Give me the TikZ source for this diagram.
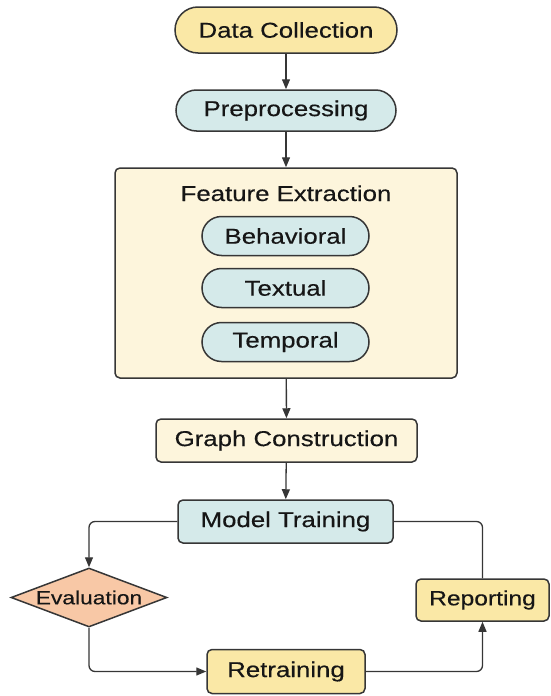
\documentclass[tikz,border=0pt]{standalone}
\usepackage{fontspec}
\setmainfont{Liberation Sans}[FakeStretch=1.2,FakeBold=0.35]
\usetikzlibrary{shapes.geometric,arrows.meta}
\definecolor{yel}{HTML}{FAE8A6}
\definecolor{cyn}{HTML}{D5EAEA}
\definecolor{cream}{HTML}{FDF5DC}
\definecolor{peach}{HTML}{F8C8A6}
\definecolor{edge}{HTML}{363636}
\definecolor{txt}{HTML}{161616}
\tikzset{
  box/.style={draw=edge, line width=1.5pt, text=txt, inner sep=0pt,
    font=\fontsize{21.5}{24}\selectfont},
  pill/.style={box, rounded corners=#1},
  rbox/.style={box, rounded corners=5pt},
  conn/.style={draw=edge, line width=1.3pt, -{Triangle[length=10pt,width=8pt]}},
  plain/.style={draw=edge, line width=1.3pt},
}
\begin{document}
\begin{tikzpicture}[x=1pt,y=-1pt]
\useasboundingbox (0,0) rectangle (550,696);
% top nodes
\node[pill=23pt, fill=yel, minimum width=222pt, minimum height=46pt] (dc) at (286,30) {Data Collection};
\node[pill=20.5pt, fill=cyn, minimum width=220pt, minimum height=41pt] (pre) at (286,110.5) {Preprocessing};
% feature extraction container
\node[rbox, fill=cream, minimum width=342pt, minimum height=210pt] (fe) at (286,273) {};
\node[text=txt, font=\fontsize{21.5}{24}\selectfont, anchor=base, inner sep=0pt] (fet) at (286,201) {Feature Extraction};
\node[pill=19.5pt, fill=cyn, minimum width=167pt, minimum height=39pt] (beh) at (285.5,236) {Behavioral};
\node[pill=19.5pt, fill=cyn, minimum width=167pt, minimum height=39pt] (tex) at (285.5,288) {Textual};
\node[pill=19.5pt, fill=cyn, minimum width=167pt, minimum height=39pt] (tem) at (285.5,342) {Temporal};
% lower nodes
\node[rbox, fill=cream, minimum width=261pt, minimum height=43pt] (gc) at (286.5,440.5) {Graph Construction};
\node[rbox, fill=cyn, minimum width=215pt, minimum height=43pt] (mt) at (285.5,521.5) {Model Training};
\node[box, shape=diamond, fill=peach, aspect=2.6, minimum width=156pt, minimum height=59pt,
      font=\fontsize{19}{21}\selectfont] (ev) at (89,597.5) {Evaluation};
\node[rbox, fill=yel, minimum width=133pt, minimum height=42pt,
      font=\fontsize{20.5}{22}\selectfont] (rep) at (482.5,600) {Reporting};
\node[rbox, fill=yel, minimum width=158pt, minimum height=44pt] (ret) at (286,671.5) {Retraining};
% connectors
\draw[conn] (dc) -- (pre);
\draw[conn] (pre) -- (fe);
\draw[conn] (fe) -- (gc);
\draw[conn] (gc) -- (mt);
\draw[conn, rounded corners=6pt] (mt.west) -| (ev.north);
\draw[conn, rounded corners=6pt] (ev.south) |- (ret.west);
\draw[conn, rounded corners=6pt] (ret.east) -| (rep.south);
\draw[plain, rounded corners=6pt] (rep.north) |- (mt.east);
\end{tikzpicture}
\end{document}
